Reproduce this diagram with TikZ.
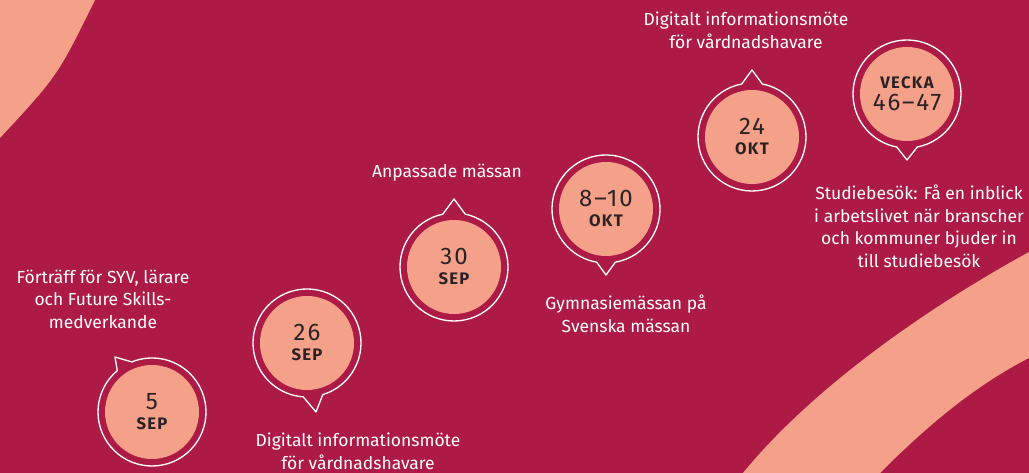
\documentclass[tikz,border=0pt]{standalone}
\usepackage{fontspec}
\setmainfont{Fira Sans}
\newfontfamily\datefont{Fira Sans}[LetterSpace=8]
\usetikzlibrary{positioning,calc}

\definecolor{plum}{HTML}{AD1A45}
\definecolor{salmon}{HTML}{F5A088}
\definecolor{ink}{HTML}{2B2226}

\newcommand\ringr{40.5pt}
\newcommand\dnum[1]{{\datefont\fontsize{18}{18}\selectfont #1}}
\newcommand\dmon[1]{{\datefont\bfseries\fontsize{12.5}{12.5}\selectfont #1}}
% ring round a date, with its tail between two angles
\newcommand\bubble[4]{%
  \draw[ring] (#1) ++(#3:\ringr) arc[start angle=#3, end angle=#2+360, radius=\ringr]
    -- ($(#1)+(#4)$) -- cycle;}

\tikzset{
  lbl/.style={text=white, align=center, inner sep=0pt,
    font=\fontsize{13.1}{16.9}\selectfont},
  datebox/.style={circle, fill=salmon, minimum size=70.5pt, inner sep=0pt,
    align=center, text=ink},
  ring/.style={draw=white, line width=1pt, line join=round},
}

\begin{document}
\begin{tikzpicture}[x=0.75pt,y=0.75pt]
  \useasboundingbox (0,0) rectangle (1029,473);
  \fill[plum] (0,0) rectangle (1029,473);
  % swooshes
  \fill[salmon] (0,473) -- (95,473) .. controls (57.5,397) .. (0,335) -- cycle;
  \fill[salmon] (743,0) .. controls (800,70) and (900,150) .. (1029,221)
    -- (1029,115) .. controls (970,85) and (920,40) .. (880,0) -- cycle;

  % dates
  \node[datebox] (d5)   at (152,61)  {\dnum{5}\\[3pt]\dmon{SEP}};
  \node[datebox] (d26)  at (307,130) {\dnum{26}\\[3pt]\dmon{SEP}};
  \node[datebox] (d30)  at (454,206) {\dnum{30}\\[3pt]\dmon{SEP}};
  \node[datebox] (d810) at (606,264) {\dnum{8–10}\\[3pt]\dmon{OKT}};
  \node[datebox] (d24)  at (752,336) {\dnum{24}\\[3pt]\dmon{OKT}};
  \node[datebox] (dv)   at (907,379) {\dmon{VECKA}\\[3pt]\dnum{46–47}};

  \bubble{d5}{112}{130}{-37,55}
  \bubble{d26}{266}{287}{9,-69}
  \bubble{d30}{78}{102}{0,68}
  \bubble{d810}{260}{280}{0,-66}
  \bubble{d24}{79}{101}{0,67}
  \bubble{dv}{259}{281}{0,-66}

  % texts
  \node[lbl] (t5)   at (103,174)   {Förträff för SYV, lärare\\och Future Skills-\\medverkande};
  \node[lbl] (t26)  at (358,21.5)  {Digitalt informationsmöte\\för vårdnadshavare};
  \node[lbl] (t30)  at (447,300)   {Anpassade mässan};
  \node[lbl] (t810) at (626,159)   {Gymnasiemässan på\\Svenska mässan};
  \node[lbl] (t24)  at (746,442.5) {Digitalt informationsmöte\\för vårdnadshavare};
  \node[lbl] (tv)   at (919,246.5) {Studiebesök: Få en inblick\\i arbetslivet när branscher\\och kommuner bjuder in\\till studiebesök};
\end{tikzpicture}
\end{document}
